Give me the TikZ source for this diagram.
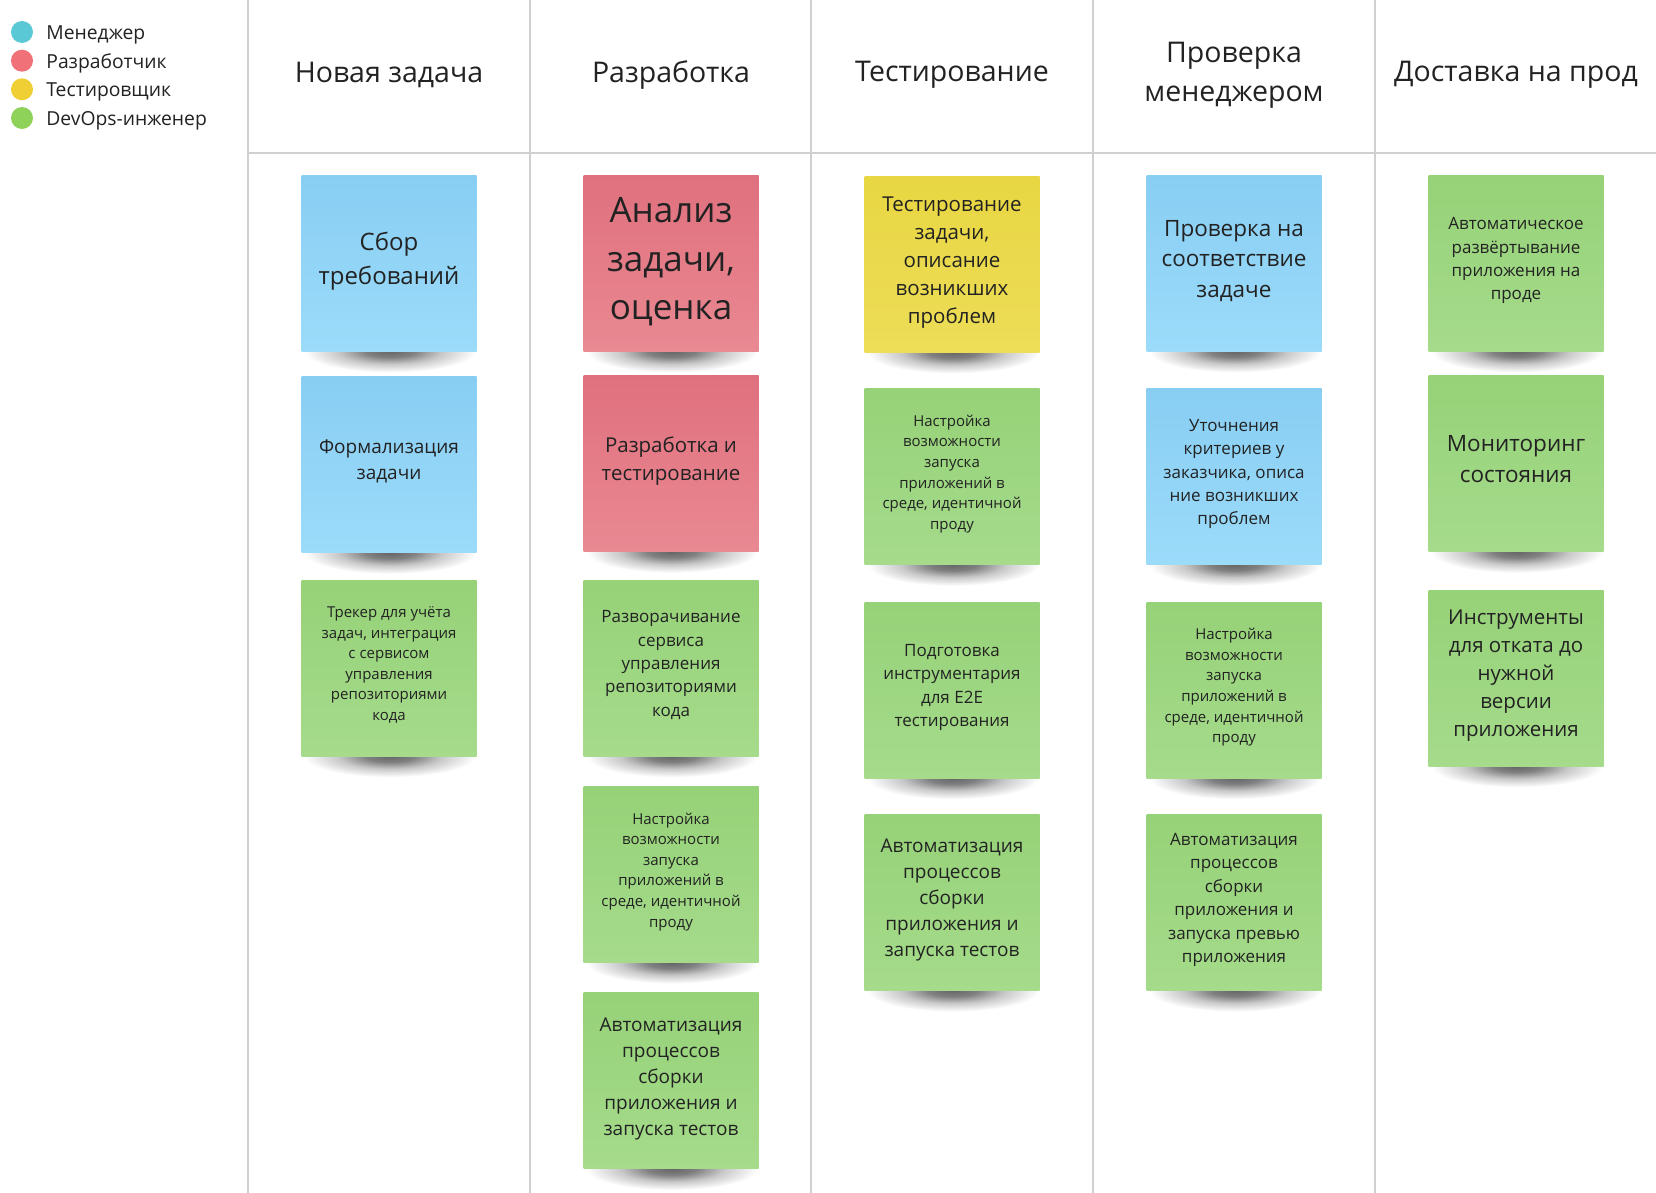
\documentclass[tikz,border=0pt]{standalone}
\usepackage{fontspec}
\setmainfont{Open Sans}
\usetikzlibrary{positioning}
\pgfdeclarelayer{background}
\pgfsetlayers{background,main}
\definecolor{colorText}{RGB}{34, 34, 34}
\definecolor{colorGrid}{RGB}{208, 208, 208}
\definecolor{legendManager}{RGB}{91, 200, 214}
\definecolor{legendDeveloper}{RGB}{240, 113, 120}
\definecolor{legendTester}{RGB}{240, 207, 52}
\definecolor{legendDevOps}{RGB}{143, 210, 90}
\definecolor{mgrTop}{RGB}{136, 206, 243}
\definecolor{mgrBottom}{RGB}{156, 219, 250}
\definecolor{devTop}{RGB}{224, 112, 126}
\definecolor{devBottom}{RGB}{233, 137, 146}
\definecolor{qaTop}{RGB}{232, 214, 66}
\definecolor{qaBottom}{RGB}{237, 221, 88}
\definecolor{opsTop}{RGB}{150, 210, 120}
\definecolor{opsBottom}{RGB}{165, 219, 139}
\definecolor{shadowDark}{RGB}{102, 102, 102}
\definecolor{shadowMid}{RGB}{128, 128, 128}
\definecolor{shadowLight}{RGB}{200, 200, 200}
\pgfdeclareradialshading{stickyShadow}{\pgfpointorigin}{%
    color(0bp)=(shadowDark); color(7bp)=(shadowMid);
    color(15bp)=(shadowLight); color(25bp)=(white); color(50bp)=(white)}

\begin{document}
\begin{tikzpicture}[
    x=1pt, y=-1pt,
    every node/.style={text=colorText},
    grid/.style={draw=colorGrid, line width=1.3pt},
    header/.style={align=center, font=\fontsize{28.5}{39}\selectfont},
    role/.style={circle, minimum size=22pt, inner sep=0pt},
    roleText/.style={anchor=west, inner sep=0pt, font=\fontsize{19.3}{24}\selectfont},
    sticky/.style={
        minimum width=175pt, minimum height=176pt, inner sep=4pt,
        text depth=9pt, anchor=north, align=center
    },
    mgr/.style={sticky, top color=mgrTop, bottom color=mgrBottom},
    dev/.style={sticky, top color=devTop, bottom color=devBottom},
    qa/.style={sticky, top color=qaTop, bottom color=qaBottom},
    ops/.style={sticky, top color=opsTop, bottom color=opsBottom},
    drop/.style={shading=stickyShadow},
    txtHuge/.style={font=\fontsize{35}{48.6}\selectfont},
    txtBig/.style={font=\fontsize{24}{33.8}\selectfont},
    txtLarge/.style={font=\fontsize{22.5}{30.6}\selectfont},
    txtMid/.style={font=\fontsize{20.5}{28}\selectfont},
    txtNorm/.style={font=\fontsize{19}{26}\selectfont},
    txtSmall/.style={font=\fontsize{17}{23.4}\selectfont},
    txtTiny/.style={font=\fontsize{15}{20.6}\selectfont}
]
    \useasboundingbox (0,0) rectangle (1656,1193);

    % board grid
    \foreach \gx in {248, 530, 811, 1093, 1375}
        \draw[grid] (\gx,0) -- (\gx,1193);
    \draw[grid] (248,153) -- (1656,153);

    % legend
    \node[role, fill=legendManager] (dotMgr) at (22,32) {};
    \node[role, fill=legendDeveloper] (dotDev) at (22,60.7) {};
    \node[role, fill=legendTester] (dotQa) at (22,89.3) {};
    \node[role, fill=legendDevOps] (dotOps) at (22,118) {};
    \node[roleText, right=13pt of dotMgr, yshift=-3pt] (lblMgr) {Менеджер};
    \node[roleText, right=13pt of dotDev, yshift=-3pt] (lblDev) {Разработчик};
    \node[roleText, right=13pt of dotQa, yshift=-3pt] (lblQa) {Тестировщик};
    \node[roleText, right=13pt of dotOps, yshift=-3pt] (lblOps) {DevOps-инженер};

    % column headers
    \node[header] (hdrNew) at (389,75) {Новая задача};
    \node[header] (hdrDev) at (671,75) {Разработка};
    \node[header] (hdrTest) at (952,75) {Тестирование};
    \node[header] (hdrCheck) at (1234,75) {Проверка\\менеджером};
    \node[header] (hdrShip) at (1516,75) {Доставка на прод};

    % new task
    \node[mgr, txtBig] (collect) at (389,175) {Сбор\\требований};
    \node[mgr, txtNorm, below=25pt of collect] (formal) {Формализация\\задачи};
    \node[ops, txtTiny, below=27pt of formal] (tracker)
        {Трекер для учёта\\задач, интеграция\\с сервисом\\управления\\репозиториями\\кода};

    % development
    \node[dev, txtHuge] (analysis) at (671,175) {Анализ\\задачи,\\оценка};
    \node[dev, txtMid, below=24pt of analysis] (coding) {Разработка и\\тестирование};
    \node[ops, txtSmall, below=28pt of coding] (repo)
        {Разворачивание\\сервиса\\управления\\репозиториями\\кода};
    \node[ops, txtTiny, below=30pt of repo] (envDev)
        {Настройка\\возможности\\запуска\\приложений в\\среде, идентичной\\проду};
    \node[ops, txtNorm, below=30pt of envDev] (ciDev)
        {Автоматизация\\процессов\\сборки\\приложения и\\запуска тестов};

    % testing
    \node[qa, txtMid] (testing) at (952,176)
        {Тестирование\\задачи,\\описание\\возникших\\проблем};
    \node[ops, txtTiny, below=36pt of testing] (envTest)
        {Настройка\\возможности\\запуска\\приложений в\\среде, идентичной\\проду};
    \node[ops, txtSmall, below=37pt of envTest] (etoe)
        {Подготовка\\инструментария\\для E2E\\тестирования};
    \node[ops, txtNorm, below=36pt of etoe] (ciTest)
        {Автоматизация\\процессов\\сборки\\приложения и\\запуска тестов};

    % manager check
    \node[mgr, txtLarge] (review) at (1234,175) {Проверка на\\соответствие\\задаче};
    \node[mgr, txtSmall, below=37pt of review] (clarify)
        {Уточнения\\критериев у\\заказчика, описа\\ние возникших\\проблем};
    \node[ops, txtTiny, below=37pt of clarify] (envCheck)
        {Настройка\\возможности\\запуска\\приложений в\\среде, идентичной\\проду};
    \node[ops, txtSmall, below=36pt of envCheck] (preview)
        {Автоматизация\\процессов\\сборки\\приложения и\\запуска превью\\приложения};

    % delivery
    \node[ops, txtSmall] (deploy) at (1516,175)
        {Автоматическое\\развёртывание\\приложения на\\проде};
    \node[ops, txtLarge, below=24pt of deploy] (monitor) {Мониторинг\\состояния};
    \node[ops, txtMid, below=38pt of monitor] (rollback)
        {Инструменты\\для отката до\\нужной\\версии\\приложения};

    % paper background and note shadows
    \begin{pgfonlayer}{background}
        \fill[white] (0,0) rectangle (1656,1193);
        \foreach \n in {collect, formal, tracker, analysis, coding, repo, envDev, ciDev,
                testing, envTest, etoe, ciTest, review, clarify, envCheck, preview,
                deploy, monitor, rollback}
            \shade[drop] ([xshift=1pt]\n.south) ellipse [x radius=86pt, y radius=21pt];
    \end{pgfonlayer}
\end{tikzpicture}
\end{document}
